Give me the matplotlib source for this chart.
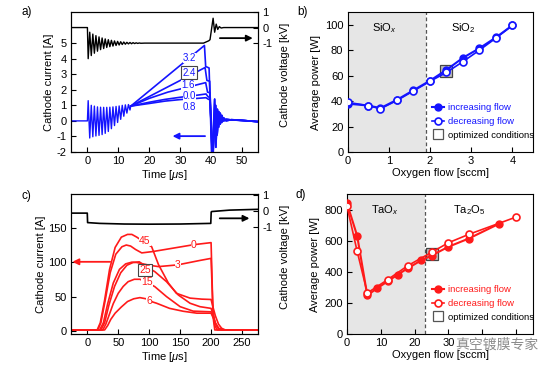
import matplotlib
matplotlib.use('Agg')
import matplotlib.pyplot as plt
from matplotlib.lines import Line2D

plt.rcParams['font.family'] = ['Liberation Sans', 'DejaVu Sans']
plt.rcParams['mathtext.fontset'] = 'custom'
plt.rcParams['mathtext.rm'] = 'Liberation Sans'
plt.rcParams['mathtext.it'] = 'Liberation Sans:italic'
plt.rcParams['font.size'] = 8
plt.rcParams['axes.linewidth'] = 0.8
plt.rcParams['axes.unicode_minus'] = False

BLUE = '#1414ff'
RED = '#ff1a1a'

# ---------- a) current / voltage waveforms, oxygen flow 0 - 3.2 sccm ----------
a_osc_t = [-5.3, 0.0, 0.25, 0.75, 1.25, 1.75, 2.25, 2.75, 3.25, 3.75, 4.25, 4.75, 5.25, 5.75,
           6.25, 6.75, 7.25, 7.75, 8.25, 8.75, 9.25, 9.75, 10.25, 10.75, 11.25, 11.75, 12.25,
           12.75, 13.25, 13.75, 14.0]
a_osc_i = [0, 0, 1.3, -1.1, 1.0, -1.02, 0.95, -0.97, 0.9, -0.93, 0.88, -0.88, 0.87, -0.8,
           0.87, -0.68, 0.88, -0.5, 0.9, -0.3, 0.93, -0.1, 0.96, 0.1, 1.0, 0.3, 1.03, 0.5,
           1.05, 0.7, 0.95]

a_volt_t = [-5.3, 0.0, 0.25, 0.75, 1.25, 1.75, 2.25, 2.75, 3.25, 3.75, 4.25, 4.75, 5.25, 5.75,
            6.25, 6.75, 7.25, 7.75, 8.25, 8.75, 9.25, 9.75, 10.25, 10.75, 11.25, 11.75, 12.25,
            12.75, 13.25, 13.75, 14.25, 14.75, 15.25, 15.75, 16.25, 16.75, 17.25, 18.5, 37.5,
            39.2, 39.6, 40.6, 41.1, 41.6, 42.1, 42.6, 43.2, 44.0, 55.2]
a_volt = [0, 0, -2.0, -0.3, -1.8, -0.42, -1.65, -0.52, -1.52, -0.6, -1.42, -0.67, -1.35, -0.73,
          -1.28, -0.78, -1.23, -0.82, -1.19, -0.86, -1.15, -0.89, -1.12, -0.91, -1.09, -0.93,
          -1.07, -0.95, -1.05, -0.96, -1.04, -0.97, -1.03, -0.98, -1.02, -0.99, -1.01, -1.0,
          -1.0, -0.85, -0.78, 0.6, -0.3, 0.22, -0.12, 0.06, -0.03, 0.0, 0.0]

a_t32 = [14.0, 37.8, 38.2, 39.3, 40.2]
a_i32 = [0.95, 4.85, 3.5, 3.4, -2.6]
a_t24 = [14.0, 38.0, 38.6, 39.5, 40.3]
a_i24 = [0.95, 3.43, 2.6, 2.55, -2.6]
a_t16 = [14.0, 20.0, 26.0, 32.0, 38.2, 38.8, 39.6, 40.4]
a_i16 = [0.95, 1.45, 1.85, 2.15, 2.46, 1.85, 1.8, -2.6]
a_t00 = [14.0, 20.0, 25.0, 30.0, 35.0, 38.3, 39.0, 39.6, 40.4]
a_i00 = [0.95, 1.2, 1.38, 1.52, 1.64, 1.73, 1.55, 1.5, -2.6]
a_t08 = [14.0, 20.0, 25.0, 30.0, 35.0, 38.3, 39.0, 39.6, 40.5]
a_i08 = [0.95, 1.12, 1.27, 1.37, 1.44, 1.49, 1.4, 1.35, -2.6]

# ringing after the pulse end
tail_a_t = [41.1, 41.5, 42.0, 42.4, 42.9, 43.4, 44.0, 44.8, 46.5, 50.0, 55.2]
tail_a = [1.4, -1.7, 0.75, -0.4, 0.5, -0.1, 0.2, 0.0, 0.08, 0.03, -0.05]
tail_b_t = [41.4, 41.9, 42.4, 42.9, 43.4, 44.0, 44.8, 46.5, 50.0, 55.2]
tail_b = [1.0, -0.9, 0.6, -0.2, 0.35, 0.0, 0.1, 0.06, 0.03, -0.05]

# ---------- b) Si, average power vs oxygen flow ----------
b_flow = [0, 0.5, 0.8, 1.2, 1.6, 2.0, 2.4, 2.8, 3.2, 3.6, 4.0]
b_inc = [38, 36.5, 34.5, 41, 48.5, 56, 64.5, 74, 81.5, 90, 99.5]
b_dec = [39, 36.5, 34, 40.5, 48, 55.5, 62.5, 71, 80, 89.5, 99.5]
b_opt = (2.4, 64)

# ---------- c) Ta current / voltage waveforms ----------
c_volt_t = [-26.3, 0.0, 0.5, 20, 60, 100, 150, 199.5, 200.2, 201, 230, 275.8]
c_volt = [-0.15, -0.15, -0.75, -0.8, -0.84, -0.85, -0.84, -0.8, -0.08, -0.05, 0.04, 0.09]

c_t45 = [-26.3, 16, 21, 28, 36, 45, 55, 65, 72, 80, 90, 104, 115, 131, 144, 166, 185, 200,
         203, 207, 212, 217, 223, 275.8]
c_i45 = [1.5, 1.5, 12, 45, 90, 122, 137, 141, 141, 137, 131, 123, 97, 70, 55, 48, 46.5, 46,
         35, 22, 10, 4, 1.5, 1.5]
c_t0 = [-26.3, 17, 22, 29, 37, 46, 56, 63, 70, 78, 88, 106, 139, 172, 200, 201, 202.5, 204,
        206, 275.8]
c_i0 = [1.5, 1.5, 12, 45, 85, 112, 123, 125.5, 124, 119, 114, 116, 121, 126, 129, 95, 45, 15,
        1.5, 1.5]
c_t3 = [-26.3, 20, 26, 33, 42, 52, 62, 72, 80, 90, 100, 115, 146, 182, 200, 201, 203, 206,
        210, 275.8]
c_i3 = [1.5, 1.5, 12, 40, 70, 90, 98, 100.5, 100, 98, 96, 94, 96.5, 103, 106, 80, 30, 8,
        1.5, 1.5]
c_t25 = [-26.3, 22, 28, 35, 44, 54, 64, 74, 84, 93, 109, 128, 147, 166, 182, 200, 203, 207,
         212, 218, 275.8]
c_i25 = [1.5, 1.5, 12, 38, 65, 85, 96, 100, 101, 95, 86.7, 72, 52.6, 40.5, 35.5, 33, 25, 12,
         4, 1.5, 1.5]
c_t15 = [-26.3, 25, 30, 36, 42, 50, 58, 66, 76, 85, 96, 109, 128, 150, 171, 200, 203, 207,
         212, 218, 275.8]
c_i15 = [1.5, 1.5, 10, 25, 40, 55, 65, 72, 75.5, 75.5, 71, 64.8, 50.2, 35.5, 29, 28, 22, 11,
         4, 1.5, 1.5]
c_t6 = [-26.3, 28, 33, 38, 45, 55, 65, 75, 85, 95, 100, 112, 133, 155, 177, 200, 203, 207,
        212, 218, 275.8]
c_i6 = [1.5, 1.5, 8, 17, 26, 35, 43, 47, 48.7, 47, 44, 40.5, 33, 28.8, 26, 26, 20, 10, 3.5,
        1.5, 1.5]

# ---------- d) Ta, average power vs oxygen flow ----------
d_inc_flow = [0, 3, 6, 9, 12, 15, 18, 22, 25, 30, 36, 45]
d_inc = [845, 635, 250, 297, 340, 384, 425, 477, 507, 564, 617, 713]
d_dec_flow = [0, 3, 6, 12, 18, 25, 30, 36, 50]
d_dec = [825, 535, 265, 351, 442, 528, 590, 644, 756]
d_opt = (25, 515)
# 40 and 50 are hidden under the watermark in the source picture
d_xticklabels = ['0', '10', '20', '30', '', '']

W, H = 553, 370
fig = plt.figure(figsize=(W / 100, H / 100), dpi=100)


def rect(l, t, r, b):
    return [l / W, 1 - b / H, (r - l) / W, (b - t) / H]


def style(ax):
    ax.tick_params(direction='in', length=3.5, width=0.8, labelsize=8, pad=3)


def label(ax, x, y, s, color, box=False, size=7.5):
    bb = dict(facecolor='white', edgecolor='#444444' if box else 'none',
              pad=1.0 if box else 0.0, lw=0.8)
    ax.text(x, y, s, color=color, fontsize=size, ha='center', va='center', bbox=bb, zorder=5)


def arrow(ax, x0, x1, y, color):
    ax.annotate('', xy=(x1, y), xytext=(x0, y),
                arrowprops=dict(arrowstyle='-|>', color=color, lw=1.3, mutation_scale=9,
                                shrinkA=0, shrinkB=0))


def legend(ax, color):
    handles = [Line2D([], [], color=color, marker='o', ms=5, lw=1.5),
               Line2D([], [], color=color, marker='o', ms=5, mfc='white', mew=1.2, lw=1.2),
               Line2D([], [], ls='none', marker='s', ms=7, mfc='white', mec='#555555', mew=0.9)]
    ax.legend(handles, ['increasing flow', 'decreasing flow', 'optimized conditions'],
              frameon=False, loc='lower left', bbox_to_anchor=(0.42, 0.04), handlelength=1.3,
              handletextpad=0.4, labelspacing=0.5, fontsize=6.8, borderpad=0.2,
              labelcolor=[color, color, 'black'])


# ---- a ----
ax = fig.add_axes(rect(71, 12, 258, 152))
style(ax)
ax.plot(a_osc_t, a_osc_i, color=BLUE, lw=1.0)
ax.plot(a_t32 + tail_a_t, a_i32 + tail_a, color=BLUE, lw=1.2)
ax.plot(a_t24 + tail_a_t, a_i24 + tail_a, color=BLUE, lw=1.2)
ax.plot(a_t16 + tail_b_t, a_i16 + tail_b, color=BLUE, lw=1.2)
ax.plot(a_t00 + tail_b_t, a_i00 + tail_b, color=BLUE, lw=1.2)
ax.plot(a_t08 + tail_b_t, a_i08 + tail_b, color=BLUE, lw=1.2)
for s, x, y in [('3.2', 32.9, 4.03), ('1.6', 32.5, 2.33), ('0.0', 32.9, 1.62), ('0.8', 32.9, 0.9)]:
    label(ax, x, y, s, BLUE, size=7)
label(ax, 32.9, 3.1, '2.4', BLUE, box=True, size=7)
arrow(ax, 38.0, 27.5, -0.98, BLUE)
ax.set_xlim(-5.3, 55.1)
ax.set_ylim(-2, 7)
ax.set_yticks(range(-2, 6))
ax.set_xticks(range(0, 51, 10))
ax.set_xlabel(r'Time [$\mu$s]', labelpad=1)
ax.set_ylabel('Cathode current [A]', labelpad=2)
axr = ax.twinx()
style(axr)
axr.plot(a_volt_t, a_volt, color='black', lw=1.0)
arrow(axr, 42.8, 53.4, -0.68, 'black')
axr.set_ylim(-8, 1)
axr.set_yticks([-1, 0, 1])
axr.set_ylabel('Cathode voltage [kV]')
axr.yaxis.set_label_coords(1.115, 0.55)
fig.text(21 / W, 1 - 12 / H, 'a)', fontsize=8.5, va='center')

# ---- b ----
ax = fig.add_axes(rect(347.5, 12, 533, 152))
style(ax)
ax.axvspan(0, 1.9, color='#e6e6e6', lw=0, zorder=0)
ax.axvline(1.9, color='#555555', ls=(0, (3, 2)), lw=0.9)
ax.plot(*b_opt, marker='s', ms=8, mfc='#c0c0c0', mec='#444444', mew=0.9, ls='none', zorder=2)
ax.plot(b_flow, b_inc, color=BLUE, marker='o', ms=5, lw=1.5, zorder=3)
ax.plot(b_flow, b_dec, color=BLUE, marker='o', ms=5, mfc='white', mew=1.2, lw=1.2, zorder=4)
ax.text(0.9, 97, r'SiO$_x$', ha='center', va='center', fontsize=8)
ax.text(2.8, 97, r'SiO$_2$', ha='center', va='center', fontsize=8)
ax.set_xlim(0, 4.5)
ax.set_ylim(0, 110)
ax.set_yticks(range(0, 101, 20))
ax.set_xlabel('Oxygen flow [sccm]', labelpad=1)
ax.set_ylabel('Average power [W]', labelpad=3)
legend(ax, BLUE)
fig.text(297 / W, 1 - 12 / H, 'b)', fontsize=8.5, va='center')

# ---- c ----
ax = fig.add_axes(rect(71, 194, 258, 334))
style(ax)
for t, i in [(c_t45, c_i45), (c_t0, c_i0), (c_t3, c_i3), (c_t25, c_i25), (c_t15, c_i15), (c_t6, c_i6)]:
    ax.plot(t, i, color=RED, lw=1.2)
for s, x, y in [('45', 93, 131), ('0', 171.6, 126), ('3', 146, 96.5), ('15', 96, 71), ('6', 100, 44)]:
    label(ax, x, y, s, RED)
label(ax, 93, 89, '25', RED, box=True)
arrow(ax, 37, -24, 101, RED)
ax.set_xlim(-26.3, 275.8)
ax.set_ylim(-4.4, 200)
ax.set_yticks([0, 50, 100, 150])
ax.set_xticks(range(0, 251, 50))
ax.set_xlabel(r'Time [$\mu$s]', labelpad=1)
ax.set_ylabel('Cathode current [A]', labelpad=2)
axr = ax.twinx()
style(axr)
axr.plot(c_volt_t, c_volt, color='black', lw=1.2)
arrow(axr, 214, 262, -0.48, 'black')
axr.set_ylim(-7.8, 1.06)
axr.set_yticks([-1, 0, 1])
axr.set_ylabel('Cathode voltage [kV]')
axr.yaxis.set_label_coords(1.115, 0.55)
fig.text(22 / W, 1 - 196 / H, 'c)', fontsize=8.5, va='center')

# ---- d ----
ax = fig.add_axes(rect(347, 194, 533, 334))
style(ax)
ax.axvspan(0, 23, color='#e6e6e6', lw=0, zorder=0)
ax.axvline(23, color='#555555', ls=(0, (3, 2)), lw=0.9)
ax.plot(*d_opt, marker='s', ms=8, mfc='#c0c0c0', mec='#444444', mew=0.9, ls='none', zorder=2)
ax.plot(d_inc_flow, d_inc, color=RED, marker='o', ms=5, lw=1.5, zorder=3)
ax.plot(d_dec_flow, d_dec, color=RED, marker='o', ms=5, mfc='white', mew=1.2, lw=1.2, zorder=4)
ax.text(11.3, 802, r'TaO$_x$', ha='center', va='center', fontsize=8)
ax.text(36.2, 802, r'Ta$_2$O$_5$', ha='center', va='center', fontsize=8)
ax.set_xlim(0, 55)
ax.set_ylim(0, 905)
ax.set_yticks(range(0, 801, 200))
ax.set_xticks(range(0, 51, 10))
ax.set_xticklabels(d_xticklabels)
ax.set_xlabel('Oxygen flow [sccm]', labelpad=1)
ax.set_ylabel('Average power [W]', labelpad=3)
legend(ax, RED)
fig.text(296 / W, 1 - 195 / H, 'd)', fontsize=8.5, va='center')

# watermark
fig.text(497 / W, 1 - 345 / H, '真空镀膜专家', family=['Noto Sans CJK SC'], fontsize=10,
         color='#666666', alpha=0.75, ha='center', va='center')

fig.savefig('out.png', dpi=100)
